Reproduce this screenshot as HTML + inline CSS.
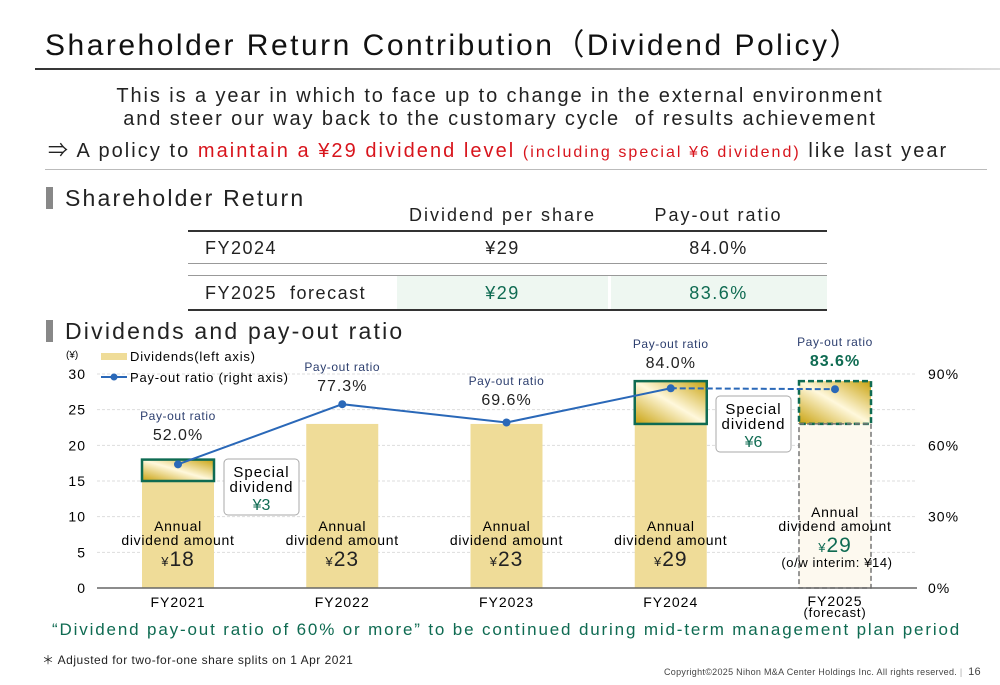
<!DOCTYPE html>
<html><head><meta charset="utf-8">
<style>
body{margin:0;width:1000px;height:685px;overflow:hidden;background:#fff;font-family:"Liberation Sans","Noto Sans CJK JP",sans-serif;color:#222;position:relative}
.a{position:absolute;white-space:nowrap}
</style></head><body>
<div class="a" style="left:45px;top:20px;font-size:30px;letter-spacing:2.5px;color:#111">Shareholder Return Contribution（Dividend Policy）</div>
<div class="a" style="left:35px;top:68px;width:965px;height:2px;background:linear-gradient(90deg,#333,#999 60%,#ddd)"></div>
<div class="a" style="left:0;width:1000px;top:85px;text-align:center;font-size:20px;line-height:23px;letter-spacing:1.9px">This is a year in which to face up to change in the external environment<br>and steer our way back to the customary cycle&nbsp; of results achievement</div>
<div class="a" style="left:48px;top:134px;font-size:20px;letter-spacing:2.05px">⇒ A policy to <span style="color:#d8141c">maintain a ¥29 dividend level <span style="font-size:16px">(including special ¥6 dividend)</span></span> like last year</div>
<div class="a" style="left:45px;top:169px;width:942px;height:1px;background:#bbb"></div>
<div class="a" style="left:46px;top:185px;font-size:23px;letter-spacing:2.2px"><span style="display:inline-block;width:7px;height:22px;background:#888;vertical-align:-3px;margin-right:12px"></span>Shareholder Return</div>
<div class="a" style="left:395px;width:215px;top:205px;text-align:center;font-size:18px;letter-spacing:2px">Dividend per share</div>
<div class="a" style="left:610px;width:217px;top:205px;text-align:center;font-size:18px;letter-spacing:2px">Pay-out ratio</div>
<div class="a" style="left:188px;top:230px;width:639px;height:2px;background:#333"></div>
<div class="a" style="left:205px;top:238px;font-size:18px;letter-spacing:1.5px">FY2024</div>
<div class="a" style="left:395px;width:215px;top:238px;text-align:center;font-size:18px;letter-spacing:1.5px">¥29</div>
<div class="a" style="left:610px;width:217px;top:238px;text-align:center;font-size:18px;letter-spacing:1.5px">84.0%</div>
<div class="a" style="left:188px;top:263px;width:639px;height:1px;background:#999"></div>
<div class="a" style="left:188px;top:275px;width:639px;height:1px;background:#999"></div>
<div class="a" style="left:397px;top:276px;width:211px;height:33px;background:#eef7f1"></div>
<div class="a" style="left:611px;top:276px;width:216px;height:33px;background:#eef7f1"></div>
<div class="a" style="left:205px;top:283px;font-size:18px;letter-spacing:1.5px">FY2025&nbsp; forecast</div>
<div class="a" style="left:395px;width:215px;top:283px;text-align:center;font-size:18px;letter-spacing:1.5px;color:#0f6b52">¥29</div>
<div class="a" style="left:610px;width:217px;top:283px;text-align:center;font-size:18px;letter-spacing:1.5px;color:#0f6b52">83.6%</div>
<div class="a" style="left:188px;top:309px;width:639px;height:2px;background:#333"></div>
<div class="a" style="left:46px;top:318px;font-size:23px;letter-spacing:2.2px"><span style="display:inline-block;width:7px;height:22px;background:#888;vertical-align:-3px;margin-right:12px"></span>Dividends and pay-out ratio</div>

<svg id="chart" width="1000" height="685" style="position:absolute;left:0;top:0" font-family="Liberation Sans, Noto Sans CJK JP, sans-serif">
<defs>
<linearGradient id="gold" x1="0" y1="1" x2="1" y2="0">
<stop offset="0" stop-color="#c9a20e"/><stop offset="0.5" stop-color="#fff8dc"/><stop offset="1" stop-color="#c9a20e"/>
</linearGradient>
</defs>
</svg>

<div class="a" style="left:52px;top:620px;font-size:17px;letter-spacing:1.85px;color:#0f6b52">“Dividend pay-out ratio of 60% or more” to be continued during mid-term management plan period</div>
<div class="a" style="left:42px;top:651px;font-size:12px;letter-spacing:0.5px">＊ Adjusted for two-for-one share splits on 1 Apr 2021</div>
<div class="a" style="left:664px;top:666px;font-size:9px;letter-spacing:0.3px;color:#444">Copyright©2025 Nihon M&amp;A Center Holdings Inc. All rights reserved.&nbsp;<span style="color:#aaa">|</span>&nbsp; <span style="font-size:11px">16</span></div>

<script>
const categories=["FY2021","FY2022","FY2023","FY2024","FY2025"];
const dividends=[18,23,23,29,29];
const specialDividends=[3,0,0,6,6];
const payoutRatios=[52.0,77.3,69.6,84.0,83.6];
const leftTicks=[0,5,10,15,20,25,30];
const rightTicks=[0,30,60,90];
const NS="http://www.w3.org/2000/svg";
const svg=document.getElementById('chart');
const X0=97,X1=917,Y0=588,Y1=374;
const xc=i=>178+i*164.25;
const yL=v=>Y0-(v/30)*(Y0-Y1);
const yR=v=>Y0-(v/90)*(Y0-Y1);
function mk(tag,at,txt){const e=document.createElementNS(NS,tag);for(const k in at)e.setAttribute(k,at[k]);if(txt!==undefined)e.textContent=txt;svg.appendChild(e);return e;}
leftTicks.forEach(t=>{
 if(t>0){const g=mk('line',{x1:X0,x2:X1,y1:yL(t),y2:yL(t),stroke:'#ddd','stroke-dasharray':'3,2'});}
 const l=mk('text',{x:86,y:yL(t)+5,'text-anchor':'end','font-size':14,'letter-spacing':1},t);
 
});
rightTicks.forEach(t=>{const l=mk('text',{x:928,y:yR(t)+5,'font-size':14,'letter-spacing':1},t+'%');});
const u=mk('text',{x:66,y:358,'font-size':10},'(¥)');
const bw=72;
const labelY=[420,371,385,348,346];
categories.forEach((c,i)=>{
 const x=xc(i)-bw/2, fc=i===4;
 const b=mk('rect',{x:x,y:yL(dividends[i]),width:bw,height:yL(0)-yL(dividends[i]),fill:fc?'#fdf9ef':'#efdc98'});
 
 if(specialDividends[i]>0){
  const s=mk('rect',{x:x,y:yL(dividends[i]),width:bw,height:yL(dividends[i]-specialDividends[i])-yL(dividends[i]),fill:'url(#gold)',stroke:'#0f6b52','stroke-width':2.5,'stroke-dasharray':fc?'6,3':'none'});
  
 }
 if(fc){const o=mk('rect',{x:x,y:yL(dividends[i]-specialDividends[i]),width:bw,height:yL(0)-yL(dividends[i]-specialDividends[i]),fill:'none',stroke:'#777','stroke-width':1.5,'stroke-dasharray':'5,3'});}
 const lx=mk('text',{x:xc(i),y:fc?606:607,'text-anchor':'middle','font-size':14,'letter-spacing':1},c);
 
 const by=fc?517:531;
 const a1=mk('text',{x:xc(i),y:by,'text-anchor':'middle','font-size':14,'letter-spacing':0.7},'Annual');
 const a2=mk('text',{x:xc(i),y:by+14,'text-anchor':'middle','font-size':14,'letter-spacing':0.7},'dividend amount');
 const av=mk('text',{x:xc(i),y:by+35,'text-anchor':'middle','font-size':21,'letter-spacing':1,fill:fc?'#0f6b52':'#222'});
 av.innerHTML='<tspan font-size="13">¥</tspan>'+dividends[i];
 
 const ly=labelY[i];
 const p1=mk('text',{x:xc(i),y:ly,'text-anchor':'middle','font-size':12,'letter-spacing':0.6,fill:'#2c3e6e'},'Pay-out ratio');
 const p2=mk('text',{x:xc(i),y:ly+20,'text-anchor':'middle','font-size':16,'letter-spacing':1,fill:fc?'#0f6b52':'#222','font-weight':fc?'bold':'normal'},payoutRatios[i].toFixed(1)+'%');
});
const ax=mk('line',{x1:X0,x2:X1,y1:Y0,y2:Y0,stroke:'#666','stroke-width':1.5});
let d='';for(let i=0;i<4;i++)d+=(i?'L':'M')+xc(i)+' '+yR(payoutRatios[i]);
const ln=mk('path',{d:d,fill:'none',stroke:'#2a68b8','stroke-width':2});
const dl=mk('line',{x1:xc(3),y1:yR(payoutRatios[3]),x2:xc(4),y2:yR(payoutRatios[4]),stroke:'#2a68b8','stroke-width':2,'stroke-dasharray':'6,3'});
payoutRatios.forEach((v,i)=>{const c=mk('circle',{cx:xc(i),cy:yR(v),r:4,fill:'#2a68b8'});});
function callout(x,y,w,h,val,name){
 const r=mk('rect',{x:x,y:y,width:w,height:h,rx:4,fill:'#fff',stroke:'#aaa','stroke-width':1});
 const t1=mk('text',{x:x+w/2,y:y+18,'text-anchor':'middle','font-size':15,'letter-spacing':1},'Special');
 const t2=mk('text',{x:x+w/2,y:y+33,'text-anchor':'middle','font-size':15,'letter-spacing':1},'dividend');
 const t3=mk('text',{x:x+w/2,y:y+51,'text-anchor':'middle','font-size':16,fill:'#0f6b52'},'¥'+val);
}
callout(224,459,75,56,specialDividends[0],'callout-fy2021');
callout(716,396,75,56,specialDividends[3],'callout-fy2024');
const lg=mk('rect',{x:101,y:353,width:26,height:7,fill:'#efdc98'});
const lt=mk('text',{x:130,y:361,'font-size':13,'letter-spacing':0.8},'Dividends(left axis)');
const ll=mk('line',{x1:101,x2:127,y1:377,y2:377,stroke:'#2a68b8','stroke-width':2});
const lc=mk('circle',{cx:114,cy:377,r:3.5,fill:'#2a68b8'});
const l2=mk('text',{x:130,y:382,'font-size':13,'letter-spacing':0.8},'Pay-out ratio (right axis)');
const oi=mk('text',{x:837,y:567,'text-anchor':'middle','font-size':13,'letter-spacing':0.6},'(o/w interim: ¥14)');
const fc2=mk('text',{x:xc(4),y:617,'text-anchor':'middle','font-size':13,'letter-spacing':0.8},'(forecast)');
</script>
</body></html>
